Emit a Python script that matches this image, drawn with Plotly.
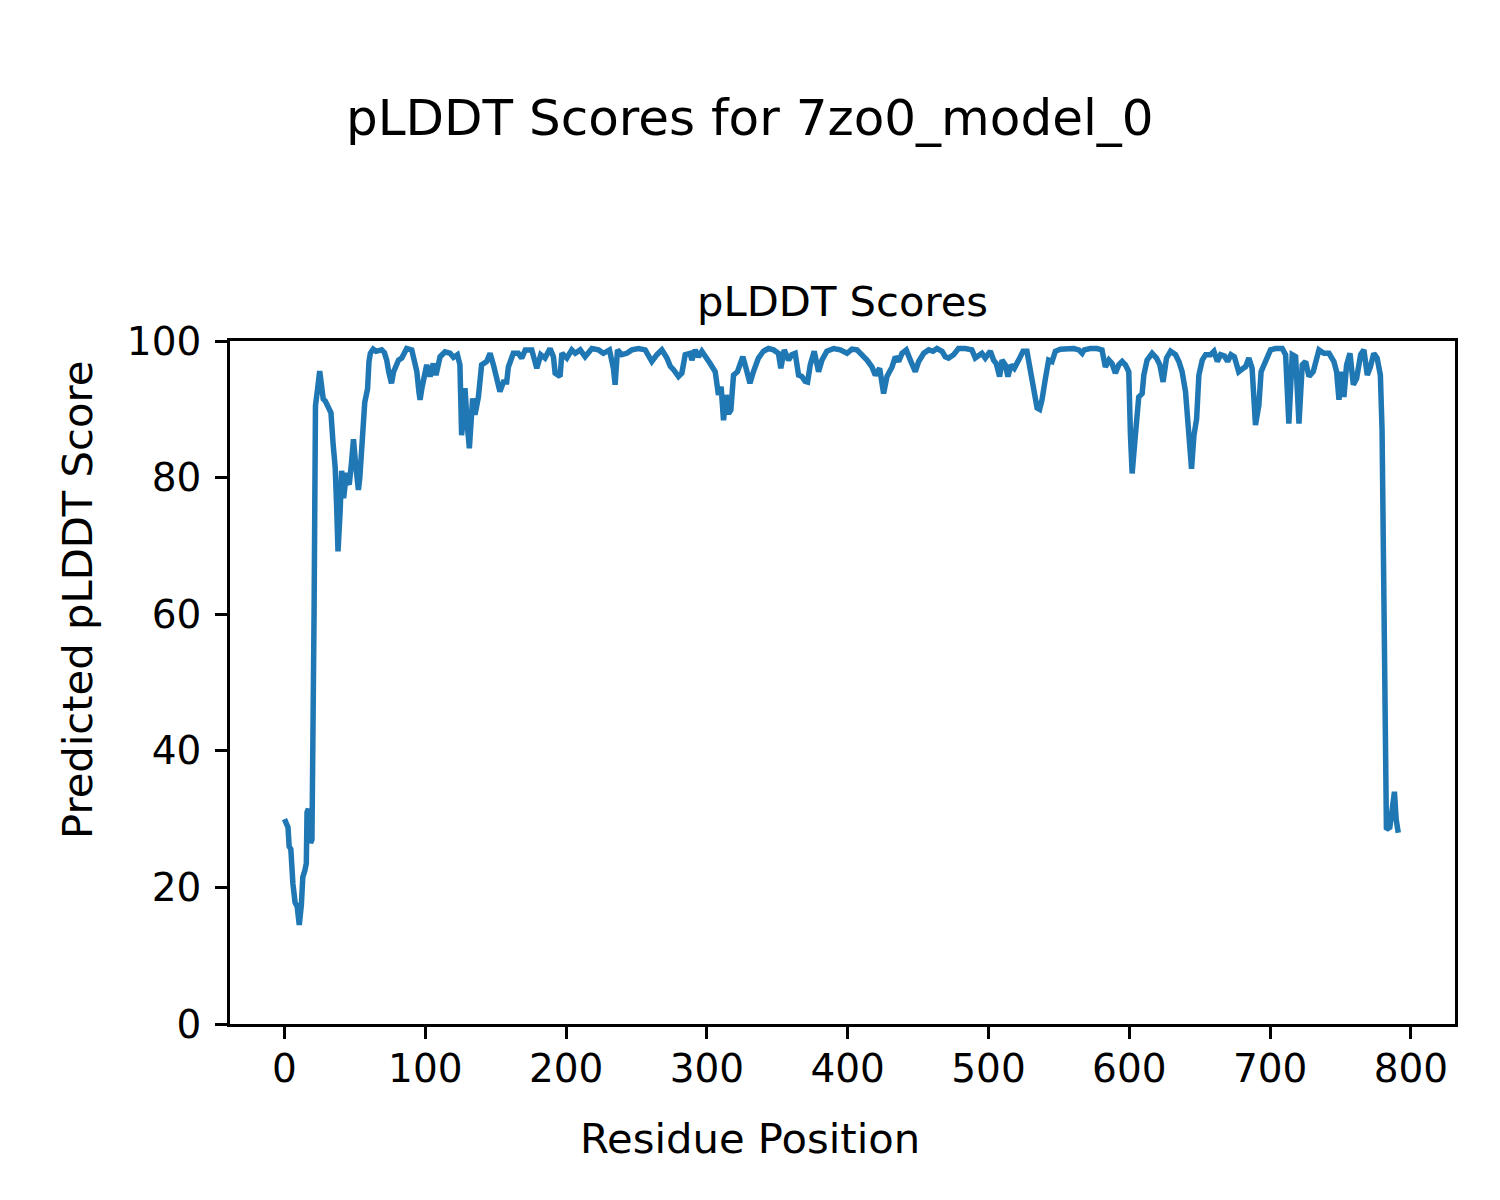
import plotly.graph_objects as go

residue = [0, 1.5, 2.5, 3.3, 4.5, 6, 7.5, 9, 10.5, 12, 13, 14.5, 15.5, 16, 17, 18.5, 19.5, 21, 22, 23.5,
           25, 26, 27.5, 29, 31, 33, 34.5, 36, 37, 38, 39.5, 40.6, 42, 43, 44, 45, 46, 47.5, 49, 50.5,
           52.5, 53.5, 55, 56, 57, 58, 59, 60, 61, 63, 65, 67, 69, 71, 72.6, 74, 76, 77.5, 79.7, 81,
           83.3, 85, 86.8, 90.4, 92, 94, 95.5, 96.3, 97.5, 98.7, 101, 103.4, 105.7, 107.6, 110.5, 114, 117.6, 120, 122.8, 124.6,
           125.8, 127, 128.2, 129.8, 131.3, 133.6, 135.3, 137.7, 140, 143.6, 146, 148.4, 150.7, 153, 155.5, 157.8, 159, 162.5, 166, 168.5,
           171, 175.6, 179.2, 182, 185, 188.6, 191, 192.2, 195.7, 197, 200.5, 204, 206.5, 210, 213.5, 218.3, 223, 226.5, 230.8, 233.6,
           234.8, 236.5, 239.5, 243.1, 246.7, 251.4, 256.2, 260.9, 264.5, 268, 271.6, 274, 276.3, 279.8, 282.2, 284.6, 288.1, 289.3, 291.7, 294,
           296.4, 300, 302.3, 305.9, 308.2, 310.1, 311.8, 313.7, 315.4, 317, 318.9, 321.7, 323.6, 325.5, 327.8, 330.6, 333, 336.6, 340.1, 343.7,
           347.3, 350.8, 352.5, 354.9, 358, 360.3, 362.7, 365.1, 367.4, 369.8, 371.5, 373.4, 376.2, 379.3, 381.7, 385.2, 390, 394.7, 399.5, 403,
           406.6, 410.1, 413.7, 417.2, 419.6, 422.7, 425.5, 427.9, 431.5, 433.8, 436.2, 438.6, 441.6, 444.5, 448, 450.4, 454, 457.5, 460.6, 463.4,
           467, 469.3, 471.6, 475.2, 478.7, 483.5, 488.2, 490.6, 493, 495.3, 497.7, 501.3, 503.6, 505.5, 507.9, 509.6, 511.9, 513.8, 516, 518.3,
           521.4, 524.5, 527.3, 530.2, 532.1, 534.5, 536.3, 538, 540.4, 542.7, 545.1, 547.5, 551, 555.8, 560.5, 564.1, 566.5, 568, 572.3, 577,
           580.6, 583, 585.5, 587.7, 590.1, 592.5, 594.9, 597.2, 599.6, 600.8, 602, 604.3, 606.7, 609.1, 610.3, 612.6, 616.2, 619.3, 621.7, 624,
           626.4, 629.3, 632.8, 635.2, 637.5, 639.9, 641.6, 644.2, 645.9, 647.8, 649.4, 651.8, 654.2, 657.7, 660.1, 662.5, 664.8, 667.6, 669.8, 672.2,
           674.6, 677.7, 680.8, 682.5, 684.9, 687.2, 689.6, 692, 693.6, 696.7, 700.3, 703.8, 708.6, 711, 713.3, 715.7, 718.1, 720.5, 722.8, 725.2,
           727.6, 730.6, 734.7, 738.2, 741.8, 745.3, 747.2, 748.9, 750.6, 752.4, 754.3, 756.7, 759.1, 761.4, 764.3, 766.6, 769, 771.2, 773.6, 776,
           778.3, 779.5, 780.7, 782.6, 785, 786.7, 788.3, 789.5, 791]

plddt = [30.0, 29.0, 28.8, 26.0, 25.6, 20.5, 17.8, 17.2, 14.5, 17.5, 21.5, 22.5, 23.5, 31.0, 31.5, 26.5, 27.0, 60.0, 90.5, 93.0,
         95.6, 94.0, 91.5, 91.2, 90.5, 89.5, 85.0, 81.5, 76.0, 69.2, 75.0, 81.0, 77.0, 80.5, 80.7, 79.3, 79.0, 82.0, 85.6, 82.0,
         78.2, 80.0, 86.0, 89.6, 91.0, 92.0, 93.0, 97.0, 98.2, 98.8, 98.5, 98.6, 98.7, 98.3, 97.2, 95.5, 93.8, 95.5, 97.0, 97.2,
         97.5, 98.3, 98.9, 98.7, 97.5, 95.5, 92.5, 91.4, 93.0, 94.5, 96.5, 94.8, 96.7, 95.0, 97.7, 98.4, 98.2, 97.6, 98.0, 96.5,
         86.2, 89.0, 93.1, 87.7, 84.3, 91.6, 89.2, 91.8, 96.5, 97.0, 98.2, 96.5, 94.5, 92.6, 94.0, 94.0, 96.2, 98.2, 98.2, 97.5,
         98.7, 98.7, 96.0, 98.0, 97.5, 98.9, 97.7, 95.3, 94.8, 98.2, 97.5, 98.7, 98.2, 98.7, 97.7, 98.9, 98.7, 98.2, 98.7, 96.0,
         93.6, 98.7, 98.0, 98.2, 98.7, 98.9, 98.7, 97.0, 98.0, 98.7, 97.5, 96.3, 95.8, 94.8, 95.3, 98.0, 98.2, 97.2, 98.7, 97.7,
         98.5, 97.5, 96.7, 95.5, 92.1, 93.3, 88.4, 92.1, 89.4, 89.9, 95.0, 95.5, 97.0, 97.7, 96.0, 93.8, 95.5, 97.5, 98.5, 98.9,
         98.7, 98.2, 96.0, 98.7, 97.2, 98.0, 98.2, 95.0, 94.8, 94.1, 94.0, 96.5, 98.5, 95.5, 97.2, 98.5, 98.9, 98.7, 98.2, 98.8,
         98.7, 98.0, 97.2, 96.2, 95.0, 96.0, 92.3, 94.8, 96.2, 97.7, 97.0, 98.2, 98.7, 97.2, 95.5, 97.0, 98.2, 98.7, 98.5, 98.9,
         98.5, 97.7, 97.5, 98.0, 98.9, 98.9, 98.7, 97.5, 98.0, 98.2, 97.5, 98.5, 97.2, 96.7, 94.8, 97.2, 96.5, 94.8, 96.5, 96.0,
         97.2, 98.5, 98.5, 95.0, 93.1, 90.2, 90.0, 91.4, 94.5, 97.2, 97.0, 98.5, 98.8, 98.9, 98.9, 98.7, 98.2, 98.7, 98.9, 98.9,
         98.7, 96.2, 97.2, 96.7, 95.3, 96.5, 97.0, 96.5, 95.5, 86.2, 80.6, 86.2, 91.8, 92.3, 95.0, 97.2, 98.2, 97.5, 96.5, 94.0,
         97.5, 98.5, 98.0, 97.0, 95.5, 92.6, 88.1, 81.3, 86.2, 88.6, 95.0, 97.2, 98.0, 98.0, 98.5, 97.0, 98.0, 97.8, 97.0, 98.0,
         97.7, 95.5, 96.0, 96.2, 97.5, 96.0, 87.7, 90.6, 95.5, 97.0, 98.7, 98.9, 98.9, 98.0, 87.9, 98.0, 97.7, 87.9, 96.5, 97.0,
         94.8, 95.5, 98.7, 98.2, 98.2, 97.0, 95.5, 91.4, 95.5, 91.8, 96.5, 98.2, 93.6, 94.5, 98.0, 98.7, 95.0, 96.2, 98.2, 97.5,
         95.0, 87.0, 62.0, 28.5, 28.8, 31.0, 34.0, 30.0, 28.0]

x_ticks = [0, 100, 200, 300, 400, 500, 600, 700, 800]
y_ticks = [0, 20, 40, 60, 80, 100]

suptitle = "pLDDT Scores for 7zo0_model_0"
axes_title = "pLDDT Scores"
x_label = "Residue Position"
y_label = "Predicted pLDDT Score"

FONT = "DejaVu Sans"
W, H = 1500, 1200
OFF = 8  # page body margin
L, R, T, B = 230, 1455, 341, 1024
pw, ph = R - L, B - T


def px(xp):
    return (xp - L) / pw


def py(yp):
    return (B - yp) / ph


fig = go.Figure()
fig.add_trace(go.Scatter(x=residue, y=plddt, mode="lines",
                         line=dict(color="#1f77b4", width=5.5), showlegend=False))

axis_common = dict(showgrid=False, zeroline=False, showline=True, linecolor="black", linewidth=2.8,
                   mirror=True, ticks="outside", ticklen=12, tickwidth=2.8, tickcolor="black",
                   tickfont=dict(family=FONT, size=39, color="black"))

fig.update_xaxes(range=[-38.7, 831.3], tickvals=x_ticks, ticktext=[str(v) for v in x_ticks],
                 ticklabelstandoff=-4, **axis_common)
fig.update_yaxes(range=[0, 100], tickvals=y_ticks, ticktext=[str(v) for v in y_ticks],
                 ticklabelstandoff=6, **axis_common)

annotations = [
    dict(text=suptitle, x=px(750), y=py(118), font=dict(size=50, family=FONT, color="black")),
    dict(text=axes_title, x=0.5, y=py(302), font=dict(size=41.7, family=FONT, color="black")),
    dict(text=x_label, x=px(750), y=py(1138), font=dict(size=41.7, family=FONT, color="black")),
    dict(text=y_label, x=px(77), y=py(600), textangle=-90, font=dict(size=41.7, family=FONT, color="black")),
]
for a in annotations:
    a.update(xref="paper", yref="paper", xanchor="center", yanchor="middle", showarrow=False)

fig.update_layout(width=W, height=H,
                  margin=dict(l=L - OFF, r=W - R + OFF, t=T - OFF, b=H - B + OFF),
                  plot_bgcolor="white", paper_bgcolor="white", annotations=annotations)

fig.write_html("out.html")
